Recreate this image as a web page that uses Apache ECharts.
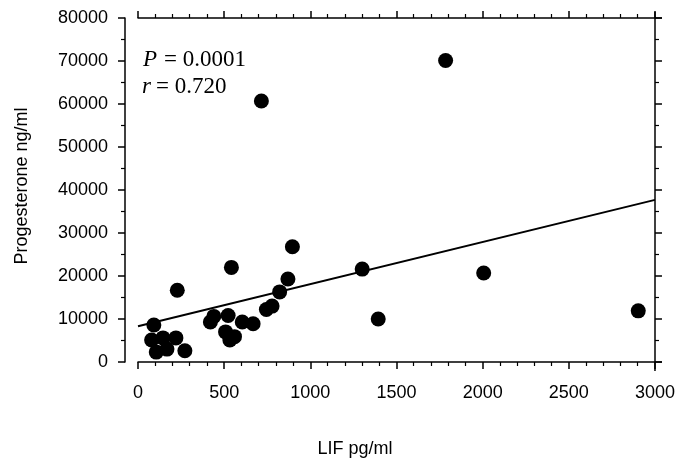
<!DOCTYPE html>
<html>
<head>
<meta charset="utf-8">
<script src="https://cdn.jsdelivr.net/npm/echarts@6/dist/echarts.min.js"></script>
<style>html,body{margin:0;padding:0;background:#fff}#c{width:678px;height:463px}</style>
</head>
<body>
<div id="c"></div>
<script>
// Data
var lifValues = [1785, 716, 896, 542, 228, 1301, 1394, 2006, 2903, 870, 822, 778, 745, 668, 605, 523, 440, 420, 508, 533, 560, 92, 79, 145, 220, 106, 168, 272];
var progValues = [70100, 60700, 26800, 22000, 16700, 21600, 10000, 20700, 11900, 19300, 16300, 13000, 12200, 8900, 9300, 10800, 10600, 9300, 7000, 5100, 5900, 8600, 5100, 5600, 5600, 2300, 3000, 2600];
var fitLineX = [0, 3000];
var fitLineY = [8300, 37700];
var xTicks = [0, 500, 1000, 1500, 2000, 2500, 3000];
var yTicks = [0, 10000, 20000, 30000, 40000, 50000, 60000, 70000, 80000];

var points = lifValues.map(function (v, i) { return [v, progValues[i]]; });
var fit = fitLineX.map(function (v, i) { return [v, fitLineY[i]]; });

var chart = echarts.init(document.getElementById('c'), null, {renderer: 'canvas'});
var axisColor = '#000';
var sans = 'Liberation Sans, Arial, sans-serif';
var serif = 'Liberation Serif, Times New Roman, serif';
var labelFont = {color: '#000', fontFamily: sans, fontSize: 18, fontWeight: 'normal', formatter: function (v) { return String(v); }};

function xAx(pos, showLabel) {
  return {
    type: 'value', position: pos, min: xTicks[0], max: xTicks[xTicks.length - 1], interval: xTicks[1] - xTicks[0],
    axisLine: {show: true, onZero: false, lineStyle: {color: axisColor, width: 1.5}},
    axisTick: {show: true, inside: false, length: 7, lineStyle: {color: axisColor, width: 1.5}},
    minorTick: {show: true, splitNumber: 5, length: 4, lineStyle: {color: axisColor, width: 1.2}},
    splitLine: {show: false},
    axisLabel: Object.assign({show: showLabel, margin: 22}, labelFont)
  };
}
function yAx(pos, showLabel, offset) {
  return {
    type: 'value', position: pos, offset: offset, min: yTicks[0], max: yTicks[yTicks.length - 1], interval: yTicks[1] - yTicks[0],
    axisLine: {show: true, onZero: false, lineStyle: {color: axisColor, width: 1.5}},
    axisTick: {show: true, inside: false, length: 7, lineStyle: {color: axisColor, width: 1.5}},
    minorTick: {show: true, splitNumber: 2, length: 4, lineStyle: {color: axisColor, width: 1.2}},
    splitLine: {show: false},
    axisLabel: Object.assign({show: showLabel, margin: 17}, labelFont)
  };
}

function plainText(id, opts, style) {
  var s = Object.assign({fill: '#000', stroke: null, lineWidth: 0, fontWeight: 'normal', fontStyle: 'normal'}, style);
  return Object.assign({type: 'text', id: id, silent: true, style: s}, opts);
}

chart.setOption({
  animation: false,
  backgroundColor: '#fff',
  grid: {left: 138, right: 22, top: 18, bottom: 101, containLabel: false},
  xAxis: [xAx('bottom', true), xAx('top', false)],
  yAxis: [yAx('left', true, 13), yAx('right', false, 0)],
  series: [
    {type: 'line', data: fit, xAxisIndex: 0, yAxisIndex: 0, showSymbol: false, symbol: 'none',
     lineStyle: {color: '#000', width: 2}, z: 2},
    {type: 'scatter', data: points, xAxisIndex: 0, yAxisIndex: 0, symbol: 'circle', symbolSize: 15,
     itemStyle: {color: '#000', opacity: 1}, z: 3}
  ],
  graphic: [
    plainText('pItal', {left: 143, top: 48}, {text: 'P', fontStyle: 'italic', fontFamily: serif, fontSize: 23}),
    plainText('pRest', {left: 164, top: 48}, {text: '= 0.0001', fontFamily: serif, fontSize: 23}),
    plainText('rItal', {left: 142, top: 75}, {text: 'r', fontStyle: 'italic', fontFamily: serif, fontSize: 23}),
    plainText('rRest', {left: 156, top: 75}, {text: '= 0.720', fontFamily: serif, fontSize: 23}),
    plainText('xTitle', {x: 355, y: 449}, {text: 'LIF pg/ml', fontFamily: sans, fontSize: 18, align: 'center', verticalAlign: 'middle'}),
    plainText('yTitle', {x: 22, y: 186, rotation: Math.PI / 2}, {text: 'Progesterone ng/ml', fontFamily: sans, fontSize: 18, align: 'center', verticalAlign: 'middle'})
  ]
});

// small overhangs of the frame lines at the right corners
var pTR = chart.convertToPixel({xAxisIndex: 0, yAxisIndex: 0}, [xTicks[xTicks.length - 1], yTicks[yTicks.length - 1]]);
var pBR = chart.convertToPixel({xAxisIndex: 0, yAxisIndex: 0}, [xTicks[xTicks.length - 1], yTicks[0]]);
var ls = {stroke: '#000', lineWidth: 1.5};
chart.setOption({graphic: [
  {type: 'line', id: 'o1', silent: true, shape: {x1: pTR[0], y1: pTR[1], x2: pTR[0] + 7, y2: pTR[1]}, style: ls},
  {type: 'line', id: 'o2', silent: true, shape: {x1: pBR[0], y1: pBR[1], x2: pBR[0] + 7, y2: pBR[1]}, style: ls},
  {type: 'line', id: 'o3', silent: true, shape: {x1: pTR[0], y1: pTR[1], x2: pTR[0], y2: pTR[1] - 6}, style: ls},
  {type: 'line', id: 'o4', silent: true, shape: {x1: pBR[0], y1: pBR[1], x2: pBR[0], y2: pBR[1] + 9}, style: ls}
]});
</script>
</body>
</html>
